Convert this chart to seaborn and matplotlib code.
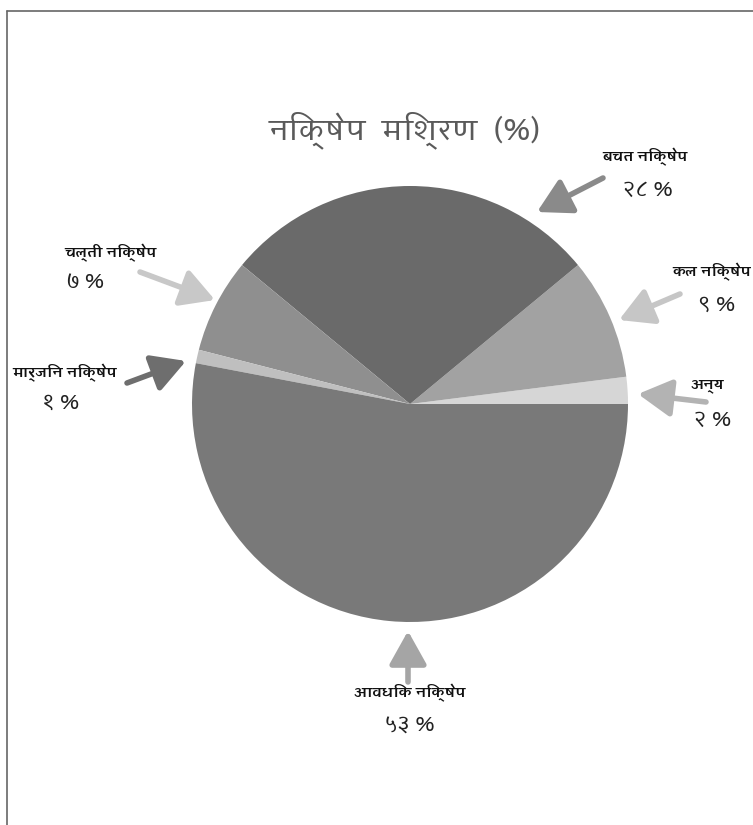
import matplotlib
matplotlib.use("Agg")
import matplotlib.pyplot as plt
import seaborn as sns
from matplotlib import font_manager
from matplotlib.ft2font import FT2Font
from matplotlib.lines import Line2D

# data
labels = ["अन्य", "कल निक्षेप", "बचत निक्षेप", "चल्ती निक्षेप", "मार्जिन निक्षेप", "आवधिक निक्षेप"]
shares = [2, 9, 28, 7, 1, 53]
slice_colors = ["#d6d6d6", "#a2a2a2", "#6a6a6a", "#8f8f8f", "#bfbfbf", "#797979"]
arrow_colors = ["#b3b3b3", "#c6c6c6", "#8a8a8a", "#c8c8c8", "#6e6e6e", "#a5a5a5"]
title = "निक्षेप  मिश्रण  (%)"

nep_digits = str.maketrans("0123456789", "०१२३४५६७८९")
pct_labels = [str(v).translate(nep_digits) + " %" for v in shares]


def devanagari_families():
    fams = {}
    for f in font_manager.fontManager.ttflist:
        try:
            cmap = FT2Font(f.fname).get_charmap()
        except Exception:
            continue
        if 0x0928 in cmap and 0x0915 in cmap:
            w = f.weight if isinstance(f.weight, int) else 400
            fams.setdefault(f.name, set()).add(w)
    return fams


sns.set_theme(style="white")
found = devanagari_families()
deva = None
for name, weights in sorted(found.items()):
    if max(weights) >= 600 and min(weights) <= 400 and "ondensed" not in name:
        deva = name
        break
if deva is None and found:
    deva = sorted(found)[0]
plt.rcParams["font.family"] = [deva, "DejaVu Sans"] if deva else ["DejaVu Sans"]

W, H = 753, 825
fig = plt.figure(figsize=(W / 100, H / 100), dpi=100)
fig.patch.set_facecolor("white")

cx, cy, R = 410, 404, 218
ax = fig.add_axes([(cx - R) / W, (H - cy - R) / H, 2 * R / W, 2 * R / H])
ax.pie(shares, colors=slice_colors, startangle=0, counterclock=True,
       radius=1, wedgeprops=dict(linewidth=0))
ax.set_xlim(-1, 1)
ax.set_ylim(-1, 1)
ax.set_aspect("equal")
ax.axis("off")


def d(px, py):
    return ((px - cx) / R, (cy - py) / R)


# label layout in pixels: name anchor, name ha, pct center, arrow tail, arrow head
layout = [
    ((707, 386), "center", (712, 420), (706, 402), (638, 394)),
    ((751, 272), "right", (717, 305), (680, 294), (619, 320)),
    ((645, 157), "center", (648, 190), (603, 178), (537, 212)),
    ((110, 253), "center", (85, 282), (140, 272), (215, 300)),
    ((12, 373), "left", (60, 403), (127, 383), (186, 361)),
    ((410, 693), "center", (410, 725), (408, 682), (408, 631)),
]

for i, (name_p, ha, pct_p, tail, head) in enumerate(layout):
    ax.annotate("", xy=d(*head), xytext=d(*tail), xycoords="data",
                arrowprops=dict(arrowstyle="-|>,head_length=1.7,head_width=0.95",
                                color=arrow_colors[i], lw=4, shrinkA=0, shrinkB=0),
                annotation_clip=False)
    ax.text(*d(*name_p), labels[i], ha=ha, va="center", fontsize=10.5,
            fontweight="bold", color="#111111", clip_on=False)
    ax.text(*d(*pct_p), pct_labels[i], ha="center", va="center", fontsize=15,
            color="#222222", clip_on=False)

fig.text(405 / W, 1 - 130 / H, title, ha="center", va="center", fontsize=21,
         color="#5a5a5a")

# outer frame (only left and top edges visible)
fig.add_artist(Line2D([7 / W, 7 / W], [0, 1 - 11 / H], color="#666666", lw=1.2))
fig.add_artist(Line2D([7 / W, 1], [1 - 11 / H, 1 - 11 / H], color="#666666", lw=1.2))

fig.savefig("out.png", dpi=100)
